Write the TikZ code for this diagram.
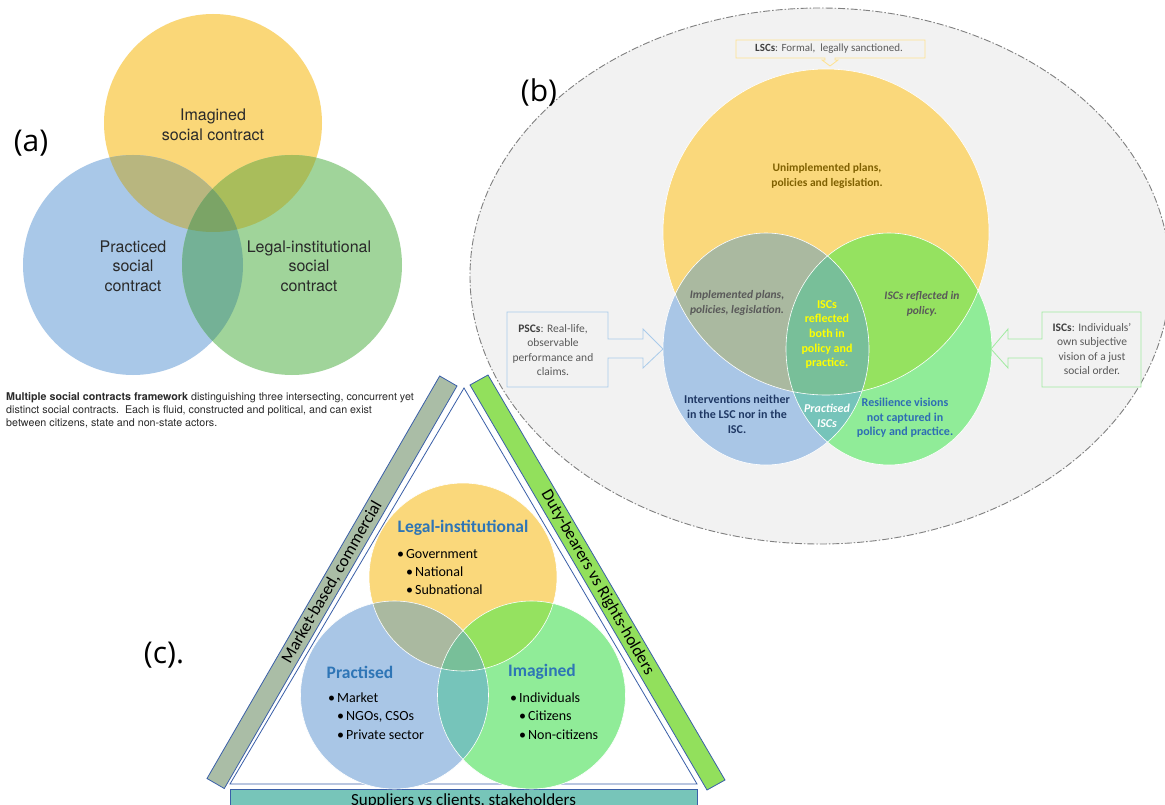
\documentclass[tikz,border=0pt]{standalone}
\usepackage{fontspec}
\setmainfont{Carlito}
\newfontfamily\heros{TeX Gyre Heros}
\newfontfamily\osans{Open Sans}
\newfontfamily\carl{Carlito}
\newcommand{\fs}[2]{\fontsize{#1}{#2}\selectfont}
% panel (a) colours
\definecolor{paA}{HTML}{FAD778}
\definecolor{paB}{HTML}{A9C8E8}
\definecolor{paC}{HTML}{A0D49A}
\definecolor{paAB}{HTML}{B8B67F}
\definecolor{paAC}{HTML}{A9BD5B}
\definecolor{paBC}{HTML}{74B196}
\definecolor{paABC}{HTML}{7BA466}
% panel (b)/(c) colours
\definecolor{pbA}{HTML}{FAD87B}
\definecolor{pbB}{HTML}{A9C6E6}
\definecolor{pbC}{HTML}{90EC98}
\definecolor{pbAB}{HTML}{AAB9A0}
\definecolor{pbAC}{HTML}{95E260}
\definecolor{pbBC}{HTML}{76C4BA}
\definecolor{pbABC}{HTML}{78BF99}
\definecolor{bgG}{HTML}{F2F2F2}
\definecolor{edgeG}{HTML}{808080}
\definecolor{cTxtA}{HTML}{2A2A2A}
\definecolor{cGray}{HTML}{595959}
\definecolor{cDGray}{HTML}{404040}
\definecolor{cOlive}{HTML}{7F6000}
\definecolor{cYel}{HTML}{FFFF00}
\definecolor{cNavy}{HTML}{1F3864}
\definecolor{cResil}{HTML}{2E6DB4}
\definecolor{cHead}{HTML}{2E75B6}
\definecolor{lBlue}{HTML}{A9CBEA}
\definecolor{lGreen}{HTML}{A0EBA0}
\definecolor{lYel}{HTML}{FFE28F}
\definecolor{dBlue}{HTML}{3A5FA8}
\definecolor{barL}{HTML}{AABDA6}
\definecolor{barR}{HTML}{92E05C}
\definecolor{barB}{HTML}{77C5B9}
% three-set region filling: #1 colour prefix, #2 #3 #4 the shapes
\newcommand{\vennregions}[4]{%
  \fill[#1A] #2; \fill[#1B] #3; \fill[#1C] #4;
  \begin{scope}\clip #2; \fill[#1AB] #3; \end{scope}
  \begin{scope}\clip #2; \fill[#1AC] #4; \end{scope}
  \begin{scope}\clip #3; \fill[#1BC] #4; \end{scope}
  \begin{scope}\clip #2; \clip #3; \fill[#1ABC] #4; \end{scope}}
\begin{document}
\begin{tikzpicture}[x=1pt,y=-1pt,
  lbl/.style={inner sep=0pt, font=\osans\fs{30}{32}, text=black},
  atxt/.style={inner sep=0pt, align=center, font=\heros\fs{16}{19.5}, text=cTxtA},
  btxt/.style={inner sep=0pt, align=center, font=\carl\bfseries\fs{12}{14.6}},
  bitxt/.style={inner sep=0pt, align=center, font=\carl\bfseries\itshape\fs{11.5}{15}, text=cGray},
  calltxt/.style={inner sep=0pt, align=center, font=\carl\fs{11.5}{14.6}, text=cGray},
  callout/.style={line width=0.8pt, fill=bgG},
  ctitle/.style={inner sep=0pt, font=\carl\bfseries\fs{17.5}{20}, text=cHead},
  citem/.style={inner sep=0pt, anchor=base west, font=\carl\fs{14}{18}, text=black},
  bartxt/.style={inner sep=0pt, font=\carl\fs{17}{20}, text=black},
  barshape/.style={draw=dBlue, line width=0.8pt}]
\useasboundingbox (0,0) rectangle (1165,805);
\fill[white] (0,0) rectangle (1165,805);

% ---------------- panel (b) background ellipse
\draw[draw=edgeG, fill=bgG, line width=0.9pt, dash pattern=on 7pt off 2pt on 1.5pt off 2pt]
  (820,276) ellipse [x radius=350pt, y radius=268pt];

% ---------------- panel (a)
\vennregions{pa}{(213,123) circle [radius=109pt]}{(133,265) circle [radius=110pt]}{(292,265) circle [radius=110pt]}
\node[atxt] (aimag) at (213,125) {Imagined\\social contract};
\node[atxt] (aprac) at (133,266) {Practiced\\social\\contract};
\node[atxt] (alegal) at (309,266) {Legal-institutional\\social\\contract};
\node[lbl] (la) at (31,143) {(a)};
\node[anchor=north west, inner sep=0pt, align=left, font=\heros\fs{10.7}{13}, text=cTxtA] (acap) at (6,392)
  {\textbf{Multiple social contracts framework} distinguishing three intersecting, concurrent yet\\
   distinct social contracts.\ \ Each is fluid, constructed and political, and can exist\\
   between citizens, state and non-state actors.};

% ---------------- panel (b)
\vennregions{pb}{(826,232) circle [radius=163pt]}{(766,349) ellipse [x radius=103pt, y radius=116pt]}{(889,349) ellipse [x radius=103pt, y radius=116pt]}
\draw[white, line width=0.6pt] (826,232) circle [radius=163pt];
\draw[white, line width=0.6pt] (766,349) ellipse [x radius=103pt, y radius=116pt];
\draw[white, line width=0.6pt] (889,349) ellipse [x radius=103pt, y radius=116pt];

% callouts
\draw[callout, draw=lYel] (736,40) -- (925,40) -- (925,58) -- (835,58) -- (835,60) -- (838,60) -- (830,66)
  -- (822,60) -- (825,60) -- (825,58) -- (736,58) -- cycle;
\draw[callout, draw=lBlue] (507,312) -- (608,312) -- (608,339) -- (643,339) -- (643,329) -- (663,349)
  -- (643,368) -- (643,358) -- (608,358) -- (608,387) -- (507,387) -- cycle;
\draw[callout, draw=lGreen] (1141,312) -- (1042,312) -- (1042,339) -- (1008,339) -- (1008,329) -- (991,349)
  -- (1008,368) -- (1008,358) -- (1042,358) -- (1042,387) -- (1141,387) -- cycle;
\node[inner sep=0pt, font=\carl\fs{11}{12}, text=cGray] (lsc) at (829,49)
  {\textcolor{cDGray}{\textbf{LSCs}}: Formal,\ \ legally sanctioned.};
\node[calltxt] (psc) at (553,350) {\textcolor{cDGray}{\textbf{PSCs}}: Real-life,\\observable\\performance and\\claims.};
\node[calltxt] (isc) at (1092,349) {\textcolor{cDGray}{\textbf{ISCs}}: Individuals’\\own subjective\\vision of a just\\social order.};

\node[btxt, font=\carl\bfseries\fs{11.5}{15}, text=cOlive] (unimp) at (827,176) {Unimplemented plans,\\policies and legislation.};
\node[bitxt] (imp) at (737,303) {Implemented plans,\\policies, legislation.};
\node[bitxt] (iscpol) at (922,304) {ISCs reflected in\\policy.};
\node[btxt, text=cYel] (iscboth) at (827,334.5) {ISCs\\reflected\\both in\\policy and\\practice.};
\node[btxt, font=\carl\bfseries\fs{12}{15}, text=cNavy] (interv) at (737,414.5) {Interventions neither\\in the LSC nor in the\\ISC.};
\node[btxt, font=\carl\bfseries\itshape\fs{12}{15}, text=white] (pisc) at (827,416) {Practised\\ISCs};
\node[btxt, text=cResil] (resil) at (905,418) {Resilience visions\\not captured in\\policy and practice.};
\node[lbl] (lb) at (539,92) {(b)};

% ---------------- panel (c)
\draw[draw=dBlue, fill=white, line width=0.8pt] (464,388) -- (697,784) -- (230,784) -- cycle;
\draw[barshape, fill=barL] (439.7,376) -- (457,386) -- (224.3,788.5) -- (207,778.5) -- cycle;
\draw[barshape, fill=barR] (488,375) -- (470,385) -- (707,790) -- (725,780) -- cycle;
\draw[barshape, fill=barB] (230,789) rectangle (697,815);
\node[bartxt, rotate=60] (tleft) at (332,582) {Market-based, commercial};
\node[bartxt, rotate=-60] (tright) at (597.5,582.5) {Duty-bearers vs Rights-holders};
\node[bartxt, anchor=base] (tbottom) at (463.5,805) {Suppliers vs clients, stakeholders};

\vennregions{pb}{(463,577) circle [radius=94pt]}{(394.5,695) circle [radius=94pt]}{(531.5,695) circle [radius=94pt]}
\draw[white, line width=0.6pt] (463,577) circle [radius=94pt];
\draw[white, line width=0.6pt] (394.5,695) circle [radius=94pt];
\draw[white, line width=0.6pt] (531.5,695) circle [radius=94pt];

\node[ctitle] (tlegal) at (463,528) {Legal-institutional};
\node[citem] (gov) at (397,558.5) {•\hspace{2pt}Government};
\node[citem] (nat) at (406,576.5) {•\hspace{2pt}National};
\node[citem] (sub) at (406,594.5) {•\hspace{2pt}Subnational};
\node[ctitle] (tprac) at (360,672) {Practised};
\node[citem] (mkt) at (328,702.5) {•\hspace{2pt}Market};
\node[citem] (ngo) at (337,720.5) {•\hspace{2pt}NGOs, CSOs};
\node[citem] (priv) at (337,739) {•\hspace{2pt}Private sector};
\node[ctitle] (timag) at (542,672) {Imagined};
\node[citem] (indiv) at (510,702.5) {•\hspace{2pt}Individuals};
\node[citem] (citz) at (519,720.5) {•\hspace{2pt}Citizens};
\node[citem] (ncitz) at (519,739) {•\hspace{2pt}Non-citizens};
\node[lbl] (lc) at (164,655) {(c).};
\end{tikzpicture}
\end{document}
